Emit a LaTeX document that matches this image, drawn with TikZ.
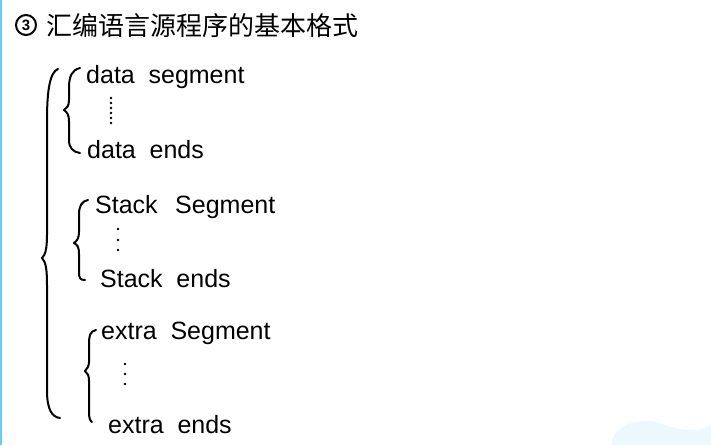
\documentclass[tikz,border=0pt]{standalone}
\usepackage{fontspec}
\setmainfont{Liberation Sans}
\newfontfamily\cjkfont{Noto Sans CJK SC}
\begin{document}
\begin{tikzpicture}[x=1pt,y=-1pt,
  ink/.style={line width=2pt, line cap=round, line join=round},
  code/.style={anchor=base west, inner sep=0pt, font=\fontsize{25}{30}\selectfont},
  dotmark/.style={fill=black, inner sep=0pt, minimum size=2.6pt, circle}]
\useasboundingbox (0,0) rectangle (711,445);
\fill[white] (0,0) rectangle (711,445);
% decorative edges
\fill[cyan!60] (0,0) rectangle (2,445);
\fill[cyan!8] (612,445) .. controls (612,425) and (640,415) .. (665,425) .. controls (685,432) and (700,432) .. (711,425) -- (711,445) -- cycle;
% title
\draw[line width=2pt] (26,25) circle (10);
\node[inner sep=0pt, font=\fontsize{15}{15}\selectfont\bfseries] (num) at (26,25.5) {3};
\node[anchor=west, inner sep=0pt, font=\cjkfont\fontsize{26}{30}\selectfont] (title) at (46,26) {汇编语言源程序的基本格式};
% big brace
\draw[ink] (58,69) .. controls (50,72) and (47,90) .. (47,120)
  -- (47,235) .. controls (47,250) and (45,255) .. (42,258)
  .. controls (46,262) and (47,270) .. (47,285)
  -- (47,390) .. controls (47,410) and (52,417) .. (60,418);
% block 1
\node[code] (d1) at (86,83) {data\hspace{0.55em}segment};
\node[code] (d2) at (87,158) {data\hspace{0.55em}ends};
\draw[ink] (80,68) .. controls (72,70) and (69,76) .. (69,88)
  -- (69,100) .. controls (69,106) and (67,108) .. (64,110)
  .. controls (67,112) and (69,115) .. (69,121)
  -- (69,140) .. controls (69,148) and (73,152) .. (80,153);
\foreach \yy in {98,103,108,113,118,123} \node[dotmark] at (111,\yy) {};
% block 2
\node[code] (s1) at (95,213) {Stack\hspace{0.7em}Segment};
\node[code] (s2) at (100,287) {Stack\hspace{0.55em}ends};
\draw[ink] (88,200) .. controls (82,201) and (79,206) .. (79,214)
  -- (79,232) .. controls (79,238) and (77,241) .. (74,243)
  .. controls (78,245) and (79,248) .. (79,254)
  -- (79,272) .. controls (79,278) and (80,280) .. (85,280);
\foreach \yy in {229,240,250} \node[dotmark] at (118,\yy) {};
% block 3
\node[code] (e1) at (101,339) {extra\hspace{0.55em}Segment};
\node[code] (e2) at (108,433) {extra\hspace{0.55em}ends};
\draw[ink] (96,330) .. controls (90,331) and (89,336) .. (89,345)
  -- (89,362) .. controls (89,366) and (87,369) .. (85,371)
  .. controls (88,373) and (89,376) .. (89,381)
  -- (89,412) .. controls (89,418) and (90,421) .. (92,422);
\foreach \yy in {364,374,384} \node[dotmark] at (125,\yy) {};
\end{tikzpicture}
\end{document}
